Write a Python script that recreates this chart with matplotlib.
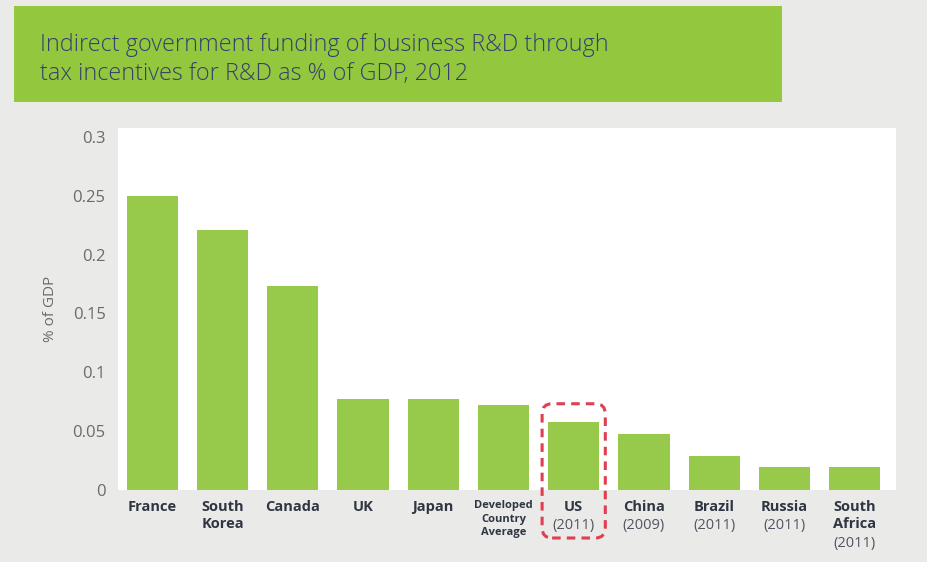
import matplotlib
matplotlib.use("Agg")
from matplotlib import pyplot as plt
from matplotlib.patches import Rectangle, FancyBboxPatch
from matplotlib.transforms import IdentityTransform

# data
countries = ["France", "South\nKorea", "Canada", "UK", "Japan",
             "Developed\nCountry\nAverage", "US", "China", "Brazil",
             "Russia", "South\nAfrica"]
years = ["", "", "", "", "", "", "(2011)", "(2009)", "(2011)", "(2011)", "(2011)"]
values = [0.25, 0.221, 0.173, 0.077, 0.077, 0.072, 0.058, 0.048, 0.029, 0.0195, 0.0195]
yticks = [0, 0.05, 0.1, 0.15, 0.2, 0.25, 0.3]
ytick_labels = ["0", "0.05", "0.1", "0.15", "0.2", "0.25", "0.3"]
highlight = "US"

bg = "#EAEAE8"
bar_green = "#97C94A"
title_green = "#93C83E"
title_col = "#353F6E"
label_col = "#2F3542"
year_col = "#50555F"
tick_col = "#6B6B6B"

W, H = 927, 562
fig = plt.figure(figsize=(W / 100, H / 100), dpi=100, facecolor=bg)

# title banner
fig.patches.append(Rectangle((14 / W, 1 - 101.5 / H), 768 / W, 95.5 / H,
                             transform=fig.transFigure, facecolor=title_green,
                             edgecolor="none", zorder=0))
fig.text(40 / W, 1 - 51 / H, "Indirect government funding of business R&D through",
         fontsize=16.8, color=title_col, family="Open Sans", fontweight="light",
         va="baseline", ha="left")
fig.text(40 / W, 1 - 80 / H, "tax incentives for R&D as % of GDP, 2012",
         fontsize=16.8, color=title_col, family="Open Sans", fontweight="light",
         va="baseline", ha="left")

ax = fig.add_axes([118 / W, 72 / H, 778 / W, 362 / H])
ax.set_facecolor("white")
x = list(range(len(countries)))
ax.bar(x, values, width=0.73, color=bar_green, zorder=2)
ax.set_xlim(-0.49, len(countries) - 1 + 0.59)
ax.set_ylim(0, 0.3076)
for s in ax.spines.values():
    s.set_visible(False)
ax.set_yticks(yticks)
ax.set_yticklabels(ytick_labels, family="Open Sans", fontsize=12, color=tick_col)
ax.tick_params(axis="y", length=0, pad=9)
ax.set_xticks([])
ax.set_ylabel("% of GDP", family="Open Sans", fontsize=11, color=tick_col, labelpad=10)

for i, (name, yr) in enumerate(zip(countries, years)):
    small = name.startswith("Developed")
    fs = 8 if small else 10.5
    ls = 1.35 if small else 1.3
    ax.annotate(name, xy=(i, 0), xycoords=("data", "axes fraction"),
                xytext=(0, -7), textcoords="offset points", ha="center", va="top",
                fontsize=fs, fontweight="bold", color=label_col,
                family="Open Sans", linespacing=ls)
    if yr:
        nlines = name.count("\n") + 1
        ax.annotate(yr, xy=(i, 0), xycoords=("data", "axes fraction"),
                    xytext=(0, -6.5 - 13.3 * nlines), textcoords="offset points",
                    ha="center", va="top", fontsize=10.5, color=year_col,
                    family="Open Sans")

# dashed rounded box around the highlighted bar
hi = countries.index(highlight)
fig.canvas.draw()
x0, y0 = ax.transData.transform((hi - 0.45, 0))
x1, y1 = ax.transData.transform((hi + 0.45, values[hi]))
box = FancyBboxPatch((x0, y0 - 48), x1 - x0, (y1 + 18) - (y0 - 48),
                     boxstyle="round,pad=0,rounding_size=10",
                     transform=IdentityTransform(), fill=False,
                     edgecolor="#DE3F51", linewidth=2.2,
                     linestyle=(0, (2.8, 2.0)), zorder=5, clip_on=False)
fig.patches.append(box)

fig.savefig("out.png", dpi=100, facecolor=bg)
